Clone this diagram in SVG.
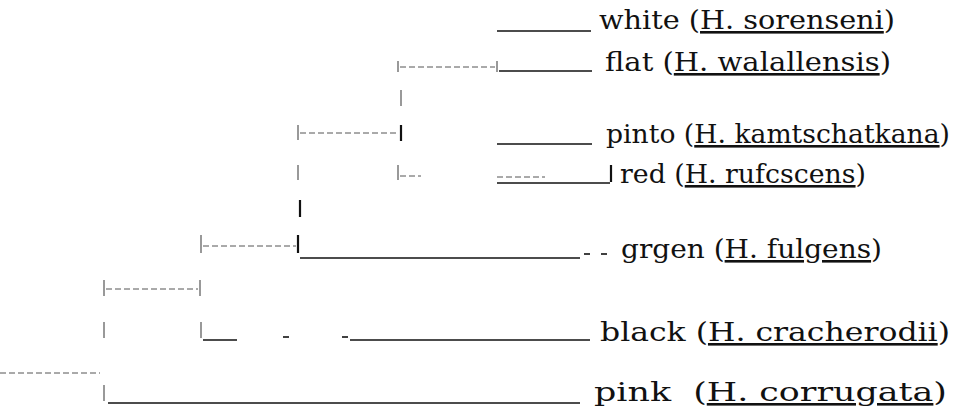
<svg xmlns="http://www.w3.org/2000/svg" width="959" height="412" viewBox="0 0 959 412">
<style>
.t{font-family:"DejaVu Serif","Liberation Serif",serif;font-size:26px;fill:#111;white-space:pre}
.u{text-decoration:underline}
.s{stroke:#111;stroke-width:1.6;fill:none}
.d{stroke:#555;stroke-width:1;stroke-dasharray:6,3;fill:none}
.b{stroke:#555;stroke-width:1.2;fill:none}
.bb{stroke:#111;stroke-width:2.2;fill:none}
</style>
<rect width="959" height="412" fill="#fff"/>
<g id="connectors">
<line class="s" x1="497" y1="31" x2="591" y2="31"/>
<line class="b" x1="398" y1="61" x2="398" y2="72"/>
<line class="b" x1="497" y1="61" x2="497" y2="72"/>
<line class="d" x1="400" y1="67" x2="495" y2="67"/>
<line class="s" x1="499" y1="71" x2="592" y2="71"/>
<line class="b" x1="401" y1="90" x2="401" y2="106"/>
<line class="b" x1="298" y1="125" x2="298" y2="140"/>
<line class="bb" x1="401" y1="125" x2="401" y2="141"/>
<line class="d" x1="300" y1="133" x2="399" y2="133"/>
<line class="s" x1="497" y1="144" x2="592" y2="144"/>
<line class="b" x1="298" y1="165" x2="298" y2="180"/>
<line class="b" x1="398" y1="165" x2="398" y2="180"/>
<line class="d" x1="400" y1="176" x2="421" y2="176"/>
<line class="d" x1="497" y1="177" x2="545" y2="177"/>
<line class="s" x1="497" y1="183" x2="610" y2="183"/>
<line class="bb" x1="611" y1="165" x2="611" y2="182"/>
<line class="bb" x1="300" y1="200" x2="300" y2="217"/>
<line class="b" x1="201" y1="235" x2="201" y2="253"/>
<line class="bb" x1="298" y1="235" x2="298" y2="253"/>
<line class="d" x1="203" y1="246" x2="296" y2="246"/>
<line class="s" x1="300" y1="258" x2="580" y2="258"/>
<line class="s" x1="584" y1="254" x2="590" y2="254"/>
<line class="s" x1="601" y1="254" x2="607" y2="254"/>
<line class="b" x1="104" y1="280" x2="104" y2="296"/>
<line class="b" x1="200" y1="280" x2="200" y2="296"/>
<line class="d" x1="106" y1="289" x2="198" y2="289"/>
<line class="b" x1="104" y1="322" x2="104" y2="338"/>
<line class="b" x1="201" y1="322" x2="201" y2="338"/>
<line class="s" x1="203" y1="340" x2="237" y2="340"/>
<line class="s" x1="283" y1="337" x2="289" y2="337"/>
<line class="s" x1="342" y1="337" x2="348" y2="337"/>
<line class="s" x1="350" y1="340" x2="590" y2="340"/>
<line class="d" x1="0" y1="373" x2="100" y2="373"/>
<line class="b" x1="104" y1="385" x2="104" y2="401"/>
<line class="s" x1="108" y1="403" x2="580" y2="403"/>
</g>
<g id="white"><text class="t" x="599" y="29" textLength="296" lengthAdjust="spacingAndGlyphs">white (<tspan class="u">H. sorenseni</tspan>)</text></g>
<g id="flat"><text class="t" x="605" y="71" textLength="286" lengthAdjust="spacingAndGlyphs">flat (<tspan class="u">H. walallensis</tspan>)</text></g>
<g id="pinto"><text class="t" x="606" y="143" textLength="344" lengthAdjust="spacingAndGlyphs">pinto (<tspan class="u">H. kamtschatkana</tspan>)</text></g>
<g id="red"><text class="t" x="620" y="183" textLength="246" lengthAdjust="spacingAndGlyphs">red (<tspan class="u">H. rufcscens</tspan>)</text></g>
<g id="green"><text class="t" x="621" y="258" textLength="261" lengthAdjust="spacingAndGlyphs">grgen (<tspan class="u">H. fulgens</tspan>)</text></g>
<g id="black"><text class="t" x="600" y="341" textLength="350" lengthAdjust="spacingAndGlyphs">black (<tspan class="u">H. cracherodii</tspan>)</text></g>
<g id="pink"><text class="t" x="594" y="401" textLength="353" lengthAdjust="spacingAndGlyphs">pink  (<tspan class="u">H. corrugata</tspan>)</text></g>
</svg>
